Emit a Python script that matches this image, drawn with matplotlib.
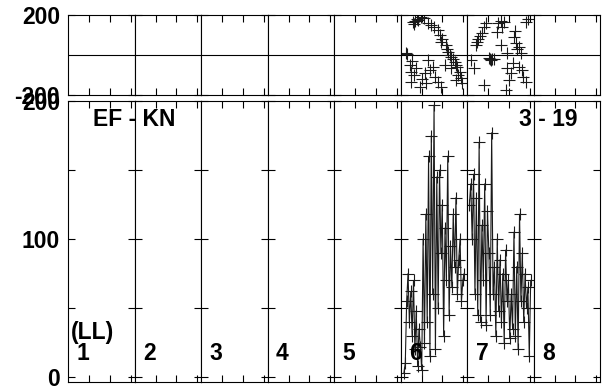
import numpy as np
import matplotlib.pyplot as plt

plt.rcParams['font.family'] = ['Liberation Sans', 'DejaVu Sans']
plt.rcParams['font.weight'] = 'bold'

N_COL = 8
col_labels = ['1', '2', '3', '4', '5', '6', '7', '8']

# bottom panel: line series in columns 6 and 7
lo6_vals = [3, 10, 55, 75, 40, 62, 30, 70, 20, 48, 8, 35, 22, 5, 100, 25, 118, 40,
            160, 15, 175, 60, 197, 20, 145, 50, 150, 90, 125, 30, 108, 70, 160, 45,
            95, 65, 118, 80, 130, 60, 85, 100, 55, 70, 75]
lo7_vals = [125, 140, 100, 147, 60, 130, 45, 170, 40, 110, 70, 140, 38, 120, 90, 45,
            177, 60, 80, 30, 100, 48, 85, 40, 75, 25, 92, 55, 70, 28, 60, 35, 105, 30,
            80, 20, 118, 55, 90, 40, 75, 50, 65, 15, 70]

# top panel: scatter points in columns 6 and 7
up6_x = [0.59, 0.83, 0.97, 1.45, 1.79, 1.88, 1.93, 2.17, 2.27, 2.41, 2.61, 2.65, 2.85,
         2.89, 0.25, 0.44, 0.49, 0.73, 1.31, 1.40, 1.64, 1.79, 0.92, 0.49, 1.16, 1.55,
         2.13, 2.41, 2.65, 1.93, 0.70, 1.10, 1.30, 1.60, 2.00, 2.20, 2.35, 2.50, 2.70,
         0.30, 0.55, 0.62, 1.00, 1.20, 2.75, 2.95, 0.65, 0.78]
up6_y = [165, 175, 190, 150, 125, 100, 65, 50, 15, -10, -35, -50, -85,
         -115, 10, -50, -85, -65, -25, -75, -110, -135, -160, -135, -90, -60,
         -50, -65, -125, -160, 170, 185, 160, 140, 80, 30, 0, -20, -60,
         5, -30, -100, -120, -140, -100, -140, 155, 180]
up7_x = [1.76, 1.67, 2.82, 0.80, 0.71, 0.47, 0.42, 1.43, 2.25, 2.34, 2.49, 1.62, 1.04,
         1.14, 1.28, 0.18, 0.32, 1.91, 2.10, 2.49, 2.63, 2.00, 2.82, 0.80, 1.86, 1.91,
         2.58, 1.10, 1.20, 0.50, 0.60, 1.50, 1.60, 2.30, 2.40, 2.20, 0.90, 2.90, 2.70]
up7_y = [165, 140, 165, 140, 110, 65, 50, 115, 90, 60, 40, 50, -15,
         -25, -20, -25, -65, -65, -90, -60, -75, -125, -135, -150, -175, 10,
         10, -20, -18, 80, 95, 160, 170, 120, 30, -40, 160, 180, -110]

texts = {'left': 'EF - KN', 'right': '3 - 19', 'unit': '(LL)'}

fig = plt.figure(figsize=(6.07, 3.88), dpi=100)
left, right = 68.3 / 607, 600.3 / 607
w = (right - left) / N_COL
fs = 16.5

tick_kw = dict(direction='in', length=5, width=0.8, top=True, right=True,
               bottom=True, left=True)

for i in range(N_COL):
    x0 = left + i * w
    up = fig.add_axes([x0, 1 - 95 / 388, w, 80 / 388])
    lo = fig.add_axes([x0, 1 - 382 / 388, w, 281.5 / 388])

    for ax in (up, lo):
        ax.set_xlim(0, 3.2)
        ax.set_xticks([1, 2, 3])
        ax.set_xticklabels([])
        ax.tick_params(**tick_kw)
        for s in ax.spines.values():
            s.set_linewidth(0.8)

    up.set_ylim(-200, 200)
    up.axhline(0, color='black', lw=0.8)
    up.set_yticks([-200, 200])
    lo.set_ylim(-3.6, 200.4)
    lo.set_yticks([0, 50, 100, 150, 200])

    if i == 0:
        up.set_yticklabels(['-200', '200'], fontsize=fs, fontweight='bold')
        lo.set_yticklabels(['0', '', '100', '', '200'], fontsize=fs, fontweight='bold')
        up.tick_params(axis='y', pad=6)
        lo.tick_params(axis='y', pad=6)
    else:
        up.set_yticklabels([])
        lo.set_yticklabels([])

    lo.text(0.22, 0.103, col_labels[i], transform=lo.transAxes, ha='center',
            va='center', fontsize=fs, fontweight='bold')

    if i == 5:
        xs = np.linspace(0.15, 3.05, len(lo6_vals))
        lo.plot(xs, lo6_vals, color='0.1', lw=0.8, marker='+', ms=8, mew=0.8)
        up.plot(up6_x, up6_y, ls='none', color='0.1', marker='+', ms=8, mew=0.8)
    if i == 6:
        xs = np.linspace(0.1, 3.05, len(lo7_vals))
        lo.plot(xs, lo7_vals, color='0.1', lw=0.8, marker='+', ms=8, mew=0.8)
        up.plot(up7_x, up7_y, ls='none', color='0.1', marker='+', ms=8, mew=0.8)

fig.text(134 / 607, 1 - 120 / 388, texts['left'], ha='center', va='center',
         fontsize=fs, fontweight='bold')
fig.text(548 / 607, 1 - 120 / 388, texts['right'], ha='center', va='center',
         fontsize=fs, fontweight='bold')
fig.text(92 / 607, 1 - 332 / 388, texts['unit'], ha='center', va='center',
         fontsize=fs, fontweight='bold')

fig.savefig('out.png', dpi=100)
